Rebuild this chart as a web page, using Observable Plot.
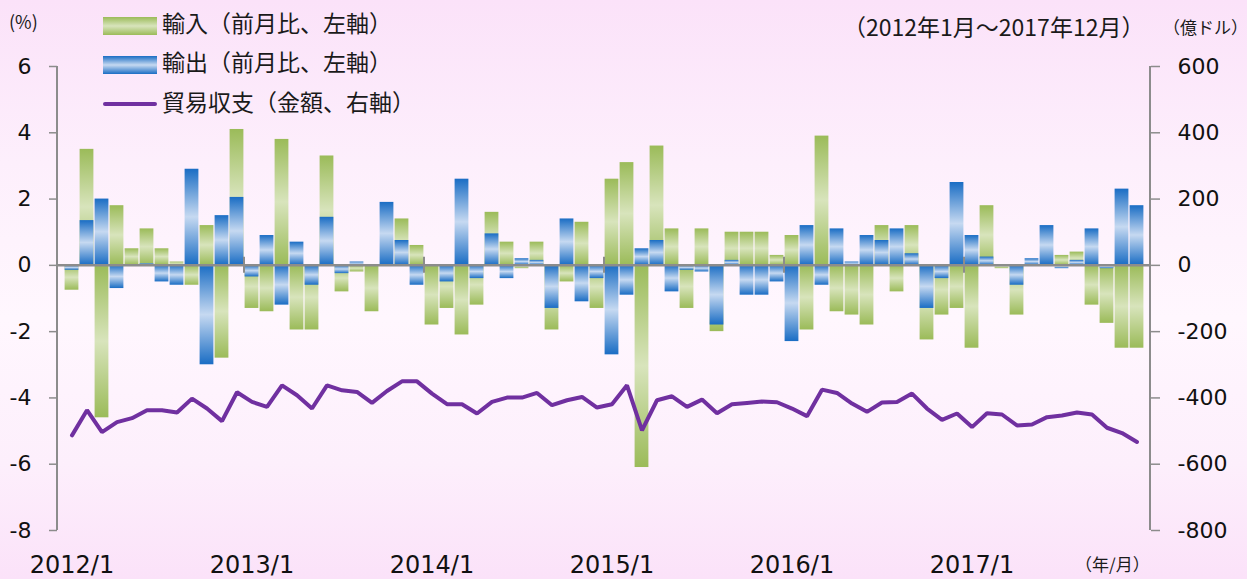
<!DOCTYPE html>
<html><head><meta charset="utf-8">
<script src="https://cdn.jsdelivr.net/npm/d3@7"></script>
<script src="https://cdn.jsdelivr.net/npm/@observablehq/plot@0.6"></script>
<style>
body{margin:0;}
#wrap{position:relative;width:1247px;height:579px;overflow:hidden;
  background:linear-gradient(to bottom,#fbe2f9 0%,#fdeffc 28%,#fff7fe 55%,#fdeffc 80%,#fbe2f9 100%);}
#wrap svg{position:absolute;left:0;top:0;}
.lbl{position:absolute;font-family:"Noto Sans CJK JP","Noto Sans",sans-serif;color:#1a1a1a;white-space:nowrap;line-height:1;}
.sw{position:absolute;}
</style>
</head><body><div id="wrap"></div>
<script>
const years = [2012, 2013, 2014, 2015, 2016, 2017];
const months = years.flatMap(y => d3.range(1, 13).map(m => `${y}/${m}`));
const yearLabels = ["2012/1", "2013/1", "2014/1", "2015/1", "2016/1", "2017/1"];
const imports = [-0.75, 3.5, -4.6, 1.8, 0.5, 1.1, 0.5, 0.1, -0.6, 1.2, -2.8, 4.1,
  -1.3, -1.4, 3.8, -1.95, -1.95, 3.3, -0.8, -0.2, -1.4, 0, 1.4, 0.6,
  -1.8, -1.3, -2.1, -1.2, 1.6, 0.7, -0.1, 0.7, -1.95, -0.5, 1.3, -1.3,
  2.6, 3.1, -6.1, 3.6, 1.1, -1.3, 1.1, -2.0, 1.0, 1.0, 1.0, 0.3,
  0.9, -1.95, 3.9, -1.4, -1.5, -1.8, 1.2, -0.8, 1.2, -2.25, -1.5, -1.3,
  -2.5, 1.8, -0.1, -1.5, 0, 0, 0.3, 0.4, -1.2, -1.75, -2.5, -2.5];
const exportsV = [-0.15, 1.35, 2.0, -0.7, 0, 0.05, -0.5, -0.6, 2.9, -3.0, 1.5, 2.05,
  -0.35, 0.9, -1.2, 0.7, -0.6, 1.45, -0.25, 0.1, 0, 1.9, 0.75, -0.6,
  0, -0.5, 2.6, -0.4, 0.95, -0.4, 0.2, 0.15, -1.3, 1.4, -1.1, -0.4,
  -2.7, -0.9, 0.5, 0.75, -0.8, -0.15, -0.2, -1.8, 0.15, -0.9, -0.9, -0.5,
  -2.3, 1.2, -0.6, 1.1, 0.1, 0.9, 0.75, 1.1, 0.35, -1.3, -0.4, 2.5,
  0.9, 0.25, 0, -0.6, 0.2, 1.2, -0.1, 0.15, 1.1, -0.1, 2.3, 1.8];
const balance = [-513, -437, -503, -473, -461, -437, -437, -444, -402, -432, -470, -383,
  -412, -427, -362, -392, -432, -362, -377, -382, -415, -379, -350, -350,
  -387, -419, -419, -447, -412, -399, -399, -385, -422, -407, -397, -429,
  -419, -362, -498, -407, -395, -427, -405, -446, -419, -415, -411, -413,
  -432, -455, -375, -385, -417, -442, -414, -412, -387, -432, -466, -447,
  -488, -446, -450, -483, -480, -458, -453, -444, -450, -490, -506, -533];
const leftTicks = [-8, -6, -4, -2, 0, 2, 4, 6];
const rightRatio = 100; // 右軸(億ドル) = 左軸 × 100

const data = months.map((m, i) => ({m, imp: imports[i], exp: exportsV[i], bal: balance[i] / rightRatio}));

const AX = "#8c8c8c";
const defs = () => {
  const d = d3.create("svg:defs");
  const mk = (id, dark, light) => {
    const g = d.append("linearGradient").attr("id", id).attr("x1", 0).attr("y1", 0).attr("x2", 0).attr("y2", 1);
    g.append("stop").attr("offset", "0%").attr("stop-color", dark);
    g.append("stop").attr("offset", "50%").attr("stop-color", light);
    g.append("stop").attr("offset", "100%").attr("stop-color", dark);
  };
  mk("gGreen", "#9bbb59", "#d8e4bc");
  mk("gBlue", "#1a6dc4", "#c6d9f1");
  return d.node();
};
const frameLines = (index, scales, values, dim) => {
  const g = d3.create("svg:g").attr("stroke", AX).attr("stroke-width", 2);
  const top = dim.marginTop, bot = dim.height - dim.marginBottom;
  const l = dim.marginLeft, r = dim.width - dim.marginRight;
  g.append("line").attr("x1", l).attr("x2", l).attr("y1", top).attr("y2", bot);
  g.append("line").attr("x1", r).attr("x2", r).attr("y1", top).attr("y2", bot);
  return g.node();
};
const yearTicks = (index, scales, values, dim) => {
  const g = d3.create("svg:g").attr("stroke", AX).attr("stroke-width", 2);
  const y0 = scales.y(0);
  yearLabels.slice(1).forEach(m => {
    const x = scales.x(m);
    g.append("line").attr("x1", x).attr("x2", x).attr("y1", y0 - 8).attr("y2", y0 + 8);
  });
  return g.node();
};

const chart = Plot.plot({
  width: 1247, height: 579,
  marginLeft: 57, marginRight: 97, marginTop: 66, marginBottom: 49,
  style: {background: "transparent", fontFamily: "DejaVu Sans, Verdana, sans-serif", fontSize: "22px", color: "#111"},
  x: {type: "band", domain: months, paddingInner: 0, paddingOuter: 0, axis: null},
  y: {domain: [-8, 6], axis: null},
  marks: [
    defs,
    Plot.barY(data, {x: "m", y: "imp", fill: "url(#gGreen)", insetLeft: 0.6, insetRight: 0.6}),
    Plot.barY(data, {x: "m", y: "exp", fill: "url(#gBlue)", insetLeft: 0.6, insetRight: 0.6}),
    Plot.ruleY([0], {stroke: AX, strokeWidth: 2.5}),
    yearTicks,
    Plot.line(data, {x: "m", y: "bal", stroke: "#7030a0", strokeWidth: 4, strokeLinejoin: "miter"}),
    frameLines,
    Plot.axisY(leftTicks, {anchor: "left", label: null, tickSize: 8, tickPadding: 18, stroke: AX, strokeWidth: 1.5, tickFormat: d => String(d), fill: "#111"}),
    Plot.axisY(leftTicks, {anchor: "right", label: null, tickSize: 9, tickPadding: 18, stroke: AX, strokeWidth: 1.5, tickFormat: d => String(d * rightRatio), fill: "#111"}),
    Plot.axisX(yearLabels, {anchor: "bottom", label: null, tickSize: 0, tickPadding: 25, fill: "#111", fontSize: 24})
  ]
});
const wrap = document.getElementById("wrap");
wrap.appendChild(chart);

function addLabel(text, left, top, size) {
  const d = document.createElement("div");
  d.className = "lbl"; d.textContent = text;
  d.style.left = left + "px"; d.style.top = top + "px"; d.style.fontSize = size + "px";
  wrap.appendChild(d);
}
function addSwatch(left, top, w, h, bg, radius) {
  const s = document.createElement("div");
  s.className = "sw";
  Object.assign(s.style, {left: left + "px", top: top + "px", width: w + "px", height: h + "px", background: bg, borderRadius: (radius || 0) + "px"});
  wrap.appendChild(s);
}
addLabel("(%)", 9, 12, 18);
addLabel("（億ドル）", 1163, 18, 17);
addLabel("（2012年1月～2017年12月）", 843, 15, 23);
addLabel("（年/月）", 1075, 555, 17);
addSwatch(103, 17, 54, 18, "linear-gradient(to bottom,#9bbb59,#d8e4bc 50%,#9bbb59)");
addSwatch(103, 56, 54, 18, "linear-gradient(to bottom,#1a6dc4,#c6d9f1 50%,#1a6dc4)");
addSwatch(103, 102, 54, 4, "#7030a0", 2);
addLabel("輸入（前月比、左軸）", 162, 11, 23);
addLabel("輸出（前月比、左軸）", 162, 50, 23);
addLabel("貿易収支（金額、右軸）", 162, 90, 23);
</script>
</body></html>
